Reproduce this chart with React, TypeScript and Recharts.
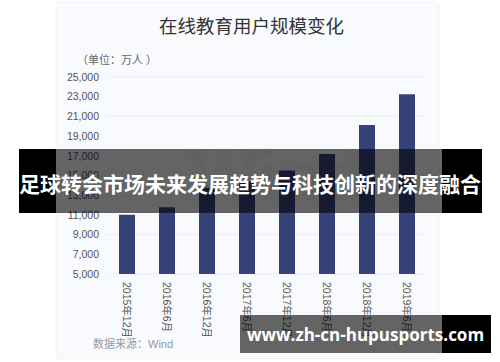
import React from "react";
import { BarChart, Bar, XAxis, YAxis, CartesianGrid } from "recharts";

const categories = ["2015年12月", "2016年6月", "2016年12月", "2017年6月", "2017年12月", "2018年6月", "2018年12月", "2019年6月"];
const users = [11014, 11789, 13764, 14426, 15518, 17186, 20123, 23246];
const yTicks = [5000, 7000, 9000, 11000, 13000, 15000, 17000, 19000, 21000, 23000, 25000];

const data = categories.map((c, i) => ({ name: c, value: users[i] }));

const FONT = "'Liberation Sans', 'Noto Sans CJK SC', sans-serif";

const XTick = (props: any) => {
  const { x, y, payload } = props;
  return (
    <g transform={`translate(${x},${y})`}>
      <text transform="rotate(90)" x={0} y={0} dy="0.35em" textAnchor="start" fontSize={10.5} fill="#555" fontFamily={FONT}>
        {payload.value}
      </text>
    </g>
  );
};

export default function App() {
  return (
    <div style={{ position: "absolute", left: 0, top: 0, width: 500, height: 362, background: "#fff", overflow: "hidden", fontFamily: FONT }}>
      <div style={{ position: "absolute", left: 57, top: 3, width: 381, height: 355, background: "#f9fafd", boxShadow: "0 0 3px rgba(0,0,0,0.12)" }} />
      <div style={{ position: "absolute", left: 190, top: 140, fontSize: 72, fontWeight: "bold", color: "rgba(0,0,0,0.03)", fontFamily: "'Liberation Sans', sans-serif", lineHeight: "72px" }}>Wind</div>
      <div style={{ position: "absolute", left: 0, top: 14, width: 503, textAlign: "center", fontSize: 18.5, color: "#333", lineHeight: "26px" }}>在线教育用户规模变化</div>
      <div style={{ position: "absolute", left: 77, top: 52, fontSize: 11, color: "#666", lineHeight: "16px" }}>（单位：万人 ）</div>
      <div style={{ position: "absolute", left: 93, top: 336, fontSize: 11, color: "#999", lineHeight: "16px" }}>数据来源：Wind</div>
      <div style={{ position: "absolute", left: 0, top: 0 }}>
        <BarChart width={500} height={362} data={data} margin={{ top: 77, right: 73, left: 57, bottom: 18 }}>
          <CartesianGrid horizontal={true} vertical={false} stroke="#eceef3" />
          <XAxis dataKey="name" axisLine={false} tickLine={false} tickSize={0} tickMargin={8} height={70} interval={0} tick={<XTick />} />
          <YAxis domain={[5000, 25000]} ticks={yTicks} axisLine={false} tickLine={false} tickSize={0} tickMargin={8} width={50} tick={{ fontSize: 10.5, fill: "#555", fontFamily: FONT }} tickFormatter={(v: number) => v.toLocaleString("en-US")} />
          <Bar dataKey="value" fill="#36427a" barSize={16} isAnimationActive={false} />
        </BarChart>
      </div>
      <div style={{ position: "absolute", left: 19, top: 149, width: 37, height: 64, background: "#000" }} />
      <div style={{ position: "absolute", left: 56, top: 149, width: 386, height: 64, background: "rgba(0,0,0,0.6)" }} />
      <div style={{ position: "absolute", left: 442, top: 149, width: 40, height: 64, background: "#000" }} />
      <div style={{ position: "absolute", left: 0, top: 149, width: 500, height: 64, display: "flex", alignItems: "center", justifyContent: "center", color: "#fff", fontSize: 21, fontWeight: "bold", fontFamily: "'Noto Sans CJK SC', sans-serif", paddingTop: 4, boxSizing: "border-box", whiteSpace: "nowrap" }}>足球转会市场未来发展趋势与科技创新的深度融合</div>
      <div style={{ position: "absolute", left: 240, top: 315, width: 202, height: 38, background: "rgba(0,0,0,0.6)" }} />
      <div style={{ position: "absolute", left: 442, top: 315, width: 49, height: 38, background: "#000" }} />
      <div style={{ position: "absolute", left: 240, top: 315, width: 251, height: 38, display: "flex", alignItems: "center", justifyContent: "center", color: "#fff", fontSize: 17, fontWeight: "bold", fontFamily: "'Open Sans', sans-serif", whiteSpace: "nowrap", paddingTop: 1, boxSizing: "border-box" }}>www.zh-cn-hupusports.com</div>
    </div>
  );
}
